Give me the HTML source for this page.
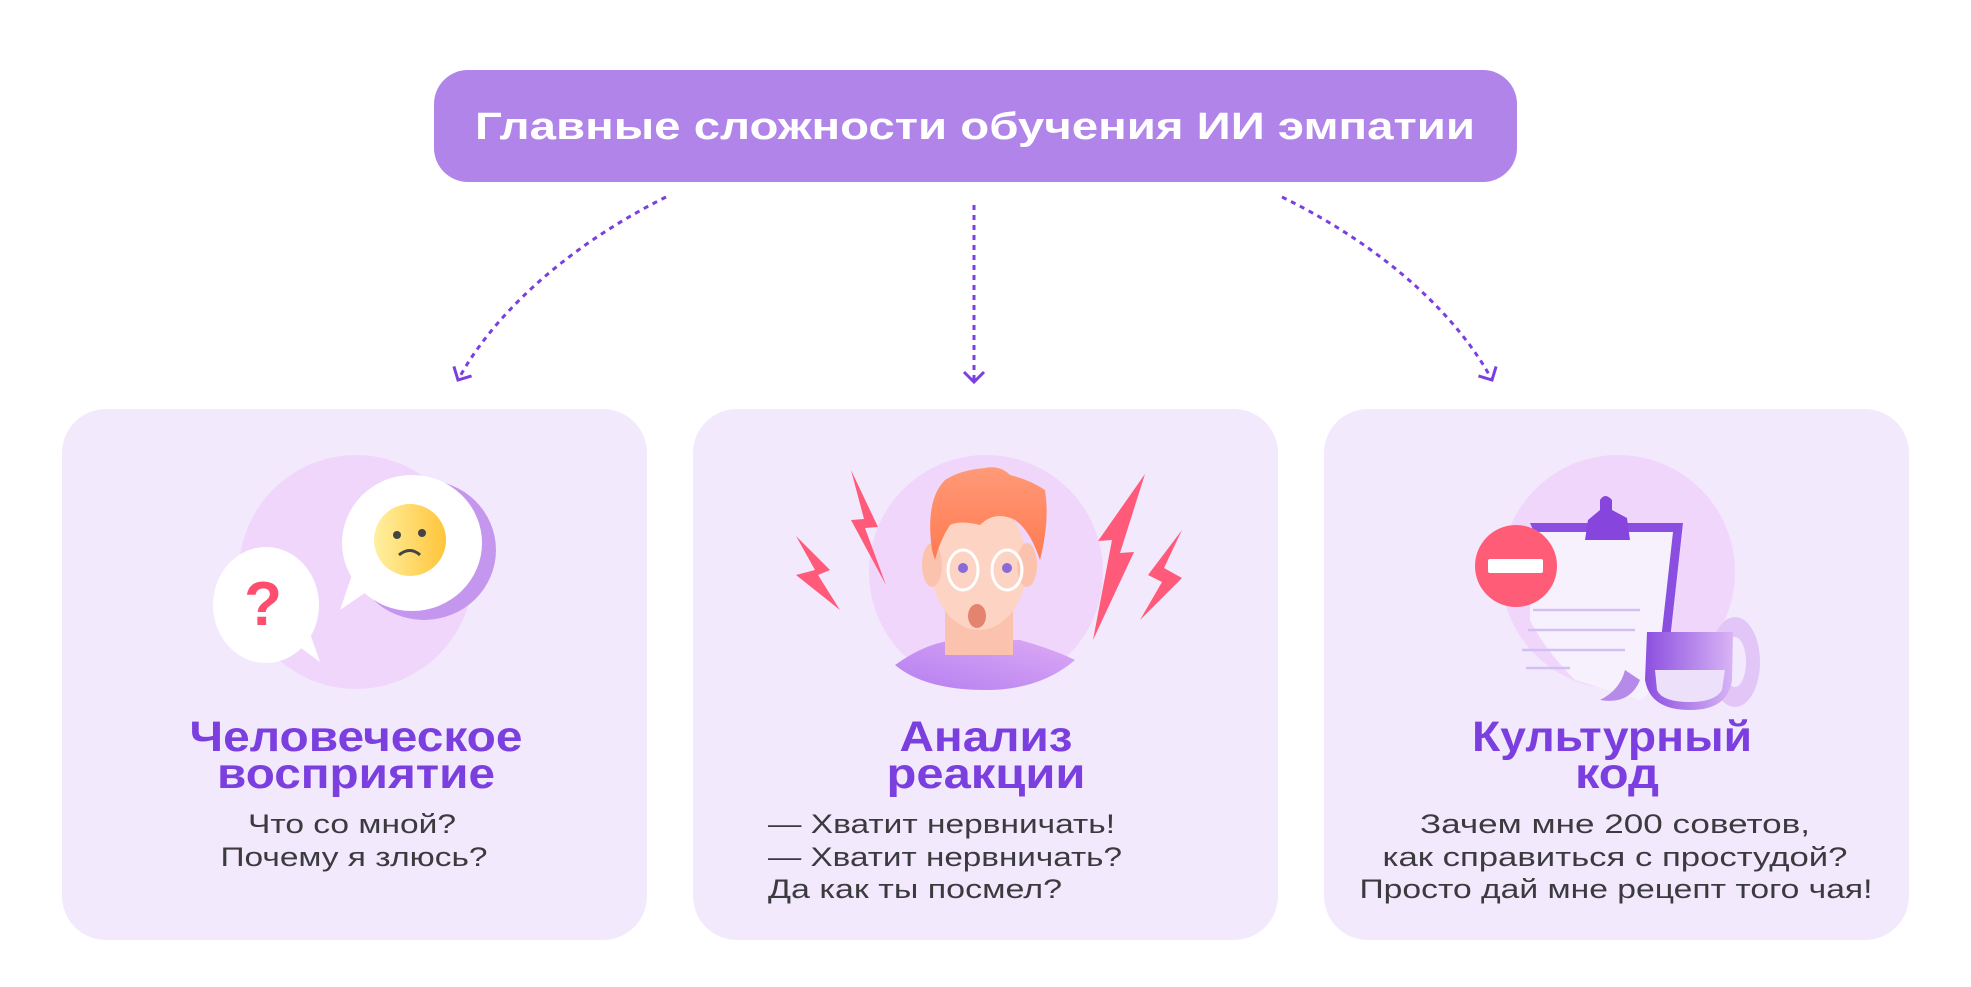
<!DOCTYPE html>
<html><head><meta charset="utf-8"><style>
html,body{margin:0;padding:0;background:#fff;}
svg{display:block;}
text{font-family:"Liberation Sans","DejaVu Sans",sans-serif;}
.h{font-weight:bold;fill:#7b3fdf;font-size:43px;}
.b{fill:#3b3a3f;font-size:27px;}
</style></head><body>
<svg width="1971" height="987" viewBox="0 0 1971 987" xmlns="http://www.w3.org/2000/svg">
<defs>
<linearGradient id="shirt" x1="0" y1="1" x2="1" y2="0"><stop offset="0" stop-color="#b57ef0"/><stop offset="1" stop-color="#dcaaf5"/></linearGradient>
<linearGradient id="hair" x1="0" y1="0" x2="0" y2="1"><stop offset="0" stop-color="#ff9a78"/><stop offset="1" stop-color="#ff7a50"/></linearGradient>
<linearGradient id="emo" x1="0" y1="0" x2="1" y2="0"><stop offset="0" stop-color="#fff0a0"/><stop offset="1" stop-color="#ffc53a"/></linearGradient>
<linearGradient id="cup" x1="0" y1="0" x2="1" y2="0"><stop offset="0" stop-color="#8c4fe0"/><stop offset="1" stop-color="#d8b4f5"/></linearGradient>
<marker id="ah" viewBox="0 0 24 24" refX="12" refY="12" markerWidth="24" markerHeight="24" orient="auto" markerUnits="userSpaceOnUse"><path d="M2,2 L12,12 L2,22" fill="none" stroke="#7b3fdf" stroke-width="3"/></marker>
</defs>
<rect x="434" y="70" width="1083" height="112" rx="34" fill="#b084e9"/>
<text x="975" y="139" text-anchor="middle" fill="#fff" font-weight="bold" font-size="38" textLength="1000" lengthAdjust="spacingAndGlyphs">Главные сложности обучения ИИ эмпатии</text>
<g fill="none" stroke="#7b3fdf" stroke-width="3" stroke-dasharray="5 5">
<path d="M666,197 C560,250 490,320 458,380" marker-end="url(#ah)"/>
<path d="M974,205 L974,382" marker-end="url(#ah)"/>
<path d="M1282,197 C1390,250 1460,320 1492,380" marker-end="url(#ah)"/>
</g>
<rect x="62" y="409" width="585" height="531" rx="44" fill="#f3e9fd"/>
<rect x="693" y="409" width="585" height="531" rx="44" fill="#f3e9fd"/>
<rect x="1324" y="409" width="585" height="531" rx="44" fill="#f3e9fd"/>
<circle cx="356" cy="572" r="117" fill="#f1d6fc"/>
<circle cx="986" cy="572" r="117" fill="#f1d6fc"/>
<circle cx="1618" cy="572" r="117" fill="#f1d6fc"/>
<ellipse cx="424" cy="550" rx="72" ry="70" fill="#c596ee"/>
<ellipse cx="412" cy="543" rx="70" ry="68" fill="#fff"/>
<path d="M352,575 L340,610 L372,588 Z" fill="#fff"/>
<circle cx="410" cy="540" r="36" fill="url(#emo)"/>
<circle cx="397" cy="535" r="4" fill="#444"/><circle cx="422" cy="533" r="4" fill="#444"/>
<path d="M399,555 Q410,546 420,555" fill="none" stroke="#444" stroke-width="3"/>
<ellipse cx="266" cy="605" rx="53" ry="58" fill="#fff"/>
<path d="M290,640 L320,662 L308,628 Z" fill="#fff"/>
<text x="263" y="625" text-anchor="middle" font-size="62" font-weight="bold" fill="#ff4d6d">?</text>
<path d="M895,665 Q930,640 960,640 L1020,640 Q1055,650 1075,660 Q1040,690 986,690 Q925,690 895,665Z" fill="url(#shirt)"/>
<rect x="945" y="600" width="68" height="55" fill="#fbc3ad"/>
<ellipse cx="979" cy="565" rx="48" ry="65" fill="#fdd3c3"/>
<ellipse cx="932" cy="565" rx="10" ry="22" fill="#fbc3ad"/><ellipse cx="1027" cy="565" rx="10" ry="22" fill="#fbc3ad"/>
<path d="M932,550 Q925,500 945,480 Q960,470 985,468 Q1000,465 1010,475 Q1030,480 1045,490 Q1050,520 1040,560 Q1030,530 1015,520 Q995,510 980,525 Q960,520 950,525 Q940,540 935,560Z" fill="url(#hair)"/>
<ellipse cx="963" cy="570" rx="15" ry="20" fill="none" stroke="#fff" stroke-width="3"/>
<ellipse cx="1007" cy="570" rx="15" ry="20" fill="none" stroke="#fff" stroke-width="3"/>
<circle cx="963" cy="568" r="5" fill="#8a6ad8"/><circle cx="1007" cy="568" r="5" fill="#8a6ad8"/>
<ellipse cx="977" cy="616" rx="9" ry="12" fill="#e5846e"/>
<g fill="#ff5a7a">
<path d="M851,470 L878,527 L865,528 L886,585 L851,520 L864,519 Z"/>
<path d="M796,536 L830,570 L818,575 L840,610 L796,575 L815,570 Z"/>
<path d="M1145,474 L1120,553 L1134,552 L1093,640 L1112,540 L1098,541 Z"/>
<path d="M1182,530 L1164,568 L1182,578 L1140,620 L1162,582 L1148,575 Z"/>
</g>
<path d="M1532,525 L1683,525 L1670,640 Q1660,690 1640,700 L1575,680 Q1545,650 1530,620 Z" fill="#f7f1fe"/>
<path d="M1530,523 L1683,523 L1670,640 L1661,640 L1673,532 L1534,532Z" fill="#8a4fe0"/>
<path d="M1585,540 L1630,540 L1627,518 L1612,510 L1612,500 Q1605,492 1600,500 L1600,510 L1588,520Z" fill="#8645dd"/>
<g stroke="#d4bff3" stroke-width="2.5"><line x1="1533" y1="610" x2="1640" y2="610"/><line x1="1528" y1="630" x2="1635" y2="630"/><line x1="1522" y1="650" x2="1625" y2="650"/><line x1="1526" y1="668" x2="1570" y2="668"/></g>
<path d="M1640,680 Q1630,705 1600,700 Q1620,690 1625,670Z" fill="#b58ae9"/>
<ellipse cx="1516" cy="566" rx="41" ry="41" fill="#ff5c78"/>
<rect x="1488" y="559" width="55" height="14" rx="2" fill="#fff"/>
<ellipse cx="1735" cy="662" rx="25" ry="45" fill="#e2c6f8"/>
<ellipse cx="1735" cy="662" rx="11" ry="25" fill="#f3e9fd"/>
<path d="M1647,632 L1733,632 L1732,680 Q1728,710 1690,710 Q1650,710 1645,680Z" fill="url(#cup)"/>
<path d="M1655,670 L1725,670 L1722,690 Q1715,702 1690,702 Q1662,702 1657,690Z" fill="#ece0fb"/>
<text class="h" x="356" y="751" text-anchor="middle" textLength="333" lengthAdjust="spacingAndGlyphs">Человеческое</text>
<text class="h" x="356" y="788" text-anchor="middle" textLength="278" lengthAdjust="spacingAndGlyphs">восприятие</text>
<text class="h" x="986" y="751" text-anchor="middle" textLength="173" lengthAdjust="spacingAndGlyphs">Анализ</text>
<text class="h" x="986" y="788" text-anchor="middle" textLength="199" lengthAdjust="spacingAndGlyphs">реакции</text>
<text class="h" x="1612" y="751" text-anchor="middle" textLength="280" lengthAdjust="spacingAndGlyphs">Культурный</text>
<text class="h" x="1617" y="788" text-anchor="middle" textLength="84" lengthAdjust="spacingAndGlyphs">код</text>
<text class="b" x="352" y="833" text-anchor="middle" textLength="208" lengthAdjust="spacingAndGlyphs">Что со мной?</text>
<text class="b" x="354" y="866" text-anchor="middle" textLength="267" lengthAdjust="spacingAndGlyphs">Почему я злюсь?</text>
<text class="b" x="768" y="833" textLength="347" lengthAdjust="spacingAndGlyphs">— Хватит нервничать!</text>
<text class="b" x="768" y="866" textLength="354" lengthAdjust="spacingAndGlyphs">— Хватит нервничать?</text>
<text class="b" x="768" y="898" textLength="294" lengthAdjust="spacingAndGlyphs">Да как ты посмел?</text>
<text class="b" x="1615" y="833" text-anchor="middle" textLength="390" lengthAdjust="spacingAndGlyphs">Зачем мне 200 советов,</text>
<text class="b" x="1615" y="866" text-anchor="middle" textLength="465" lengthAdjust="spacingAndGlyphs">как справиться с простудой?</text>
<text class="b" x="1616" y="898" text-anchor="middle" textLength="513" lengthAdjust="spacingAndGlyphs">Просто дай мне рецепт того чая!</text>
</svg>
</body></html>
